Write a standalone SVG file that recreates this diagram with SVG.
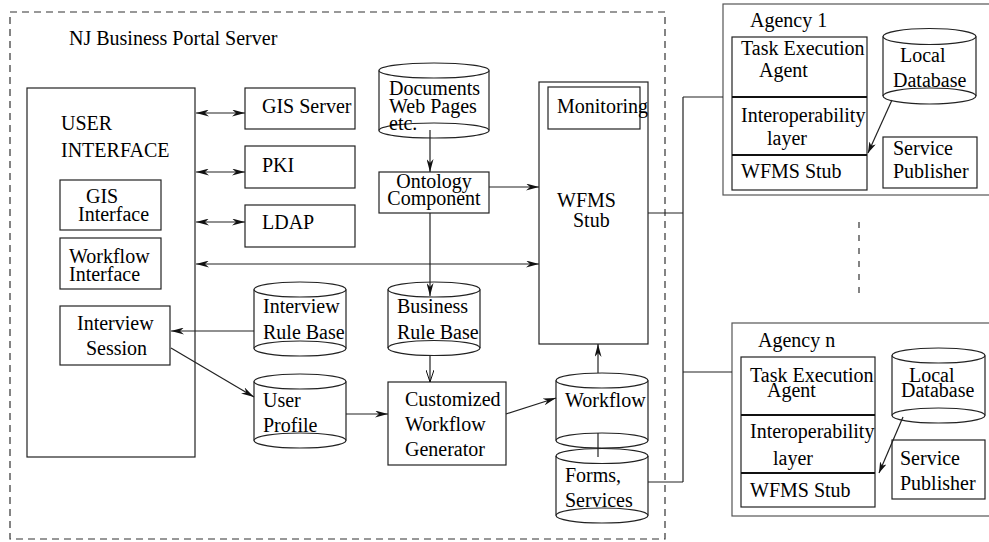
<svg xmlns="http://www.w3.org/2000/svg" width="989" height="542" viewBox="0 0 989 542">
<style>
text{font-family:"Liberation Serif","Times New Roman",serif;font-size:20px;fill:#000}
.b{fill:#fff;stroke:#222;stroke-width:1.2}
.g{fill:#fff;stroke:#555;stroke-width:1.2}
.c{fill:none;stroke:#222;stroke-width:1.2}
.l{fill:none;stroke:#222;stroke-width:1.2}
.t{fill:none;stroke:#111;stroke-width:2}
.d{fill:none;stroke:#333;stroke-width:1.2;stroke-dasharray:7,5}
</style>
<defs>
<marker id="ah" viewBox="0 0 13 7" refX="13" refY="3.5" markerWidth="13" markerHeight="7" markerUnits="userSpaceOnUse" orient="auto-start-reverse">
<path d="M0,0 L13,3.5 L0,7 L4,3.5 Z" fill="#111"/>
</marker>
<marker id="sm" viewBox="0 0 11 7" refX="11" refY="3.5" markerWidth="11" markerHeight="7" markerUnits="userSpaceOnUse" orient="auto">
<path d="M0,0 L11,3.5 L0,7 L3,3.5 Z" fill="#111"/>
</marker>
<marker id="op" viewBox="0 0 12 8" refX="12" refY="4" markerWidth="12" markerHeight="8" markerUnits="userSpaceOnUse" orient="auto">
<path d="M0,0 L12,4 L0,8" fill="none" stroke="#111" stroke-width="1"/>
</marker>
</defs>

<g id="portal">
<rect class="d" x="10" y="12" width="655" height="527"/>
<text x="69" y="45">NJ Business Portal Server</text>
</g>

<g id="user-interface">
<rect class="b" x="27" y="88" width="168" height="369"/>
<text x="61" y="130">USER</text>
<text x="61" y="157">INTERFACE</text>
</g>
<g id="gis-interface">
<rect class="b" x="60" y="180" width="101" height="50"/>
<text x="86" y="203">GIS</text>
<text x="78" y="221">Interface</text>
</g>
<g id="workflow-interface">
<rect class="b" x="60" y="238" width="101" height="51"/>
<text x="69" y="263">Workflow</text>
<text x="69" y="281">Interface</text>
</g>
<g id="interview-session">
<rect class="b" x="60" y="306" width="110" height="59"/>
<text x="77" y="330">Interview</text>
<text x="86" y="355">Session</text>
</g>

<g id="gis-server">
<rect class="b" x="245" y="88" width="110" height="41"/>
<text x="262" y="113">GIS Server</text>
</g>
<g id="pki">
<rect class="b" x="245" y="146" width="110" height="42"/>
<text x="262" y="172">PKI</text>
</g>
<g id="ldap">
<rect class="b" x="245" y="205" width="110" height="42"/>
<text x="262" y="229">LDAP</text>
</g>

<g id="interview-rule-base">
<path class="c" d="M254,289.5 V348.5 M346,289.5 V348.5"/>
<ellipse class="c" cx="300" cy="289.5" rx="46" ry="7.5"/>
<ellipse class="c" cx="300" cy="348.5" rx="46" ry="7.5"/>
<text x="263" y="313">Interview</text>
<text x="263" y="339">Rule Base</text>
</g>
<g id="user-profile">
<path class="c" d="M254,381.5 V440.5 M346,381.5 V440.5"/>
<ellipse class="c" cx="300" cy="381.5" rx="46" ry="7.5"/>
<ellipse class="c" cx="300" cy="440.5" rx="46" ry="7.5"/>
<text x="263" y="407">User</text>
<text x="263" y="432">Profile</text>
</g>

<g id="documents">
<path class="c" d="M379,70.5 V130.5 M489,70.5 V130.5"/>
<ellipse class="c" cx="434" cy="70.5" rx="55" ry="7.5"/>
<ellipse class="c" cx="434" cy="130.5" rx="55" ry="7.5"/>
<text x="389" y="95">Documents</text>
<text x="389" y="113">Web Pages</text>
<text x="389" y="130">etc.</text>
</g>
<g id="ontology">
<rect class="b" x="379" y="172" width="110" height="41"/>
<text x="434" y="188" text-anchor="middle">Ontology</text>
<text x="434" y="205" text-anchor="middle">Component</text>
</g>
<g id="business-rule-base">
<path class="c" d="M388,289.5 V348 M480,289.5 V348"/>
<ellipse class="c" cx="434" cy="289.5" rx="46" ry="7.5"/>
<ellipse class="c" cx="434" cy="348" rx="46" ry="7.5"/>
<text x="397" y="313">Business</text>
<text x="397" y="339">Rule Base</text>
</g>
<g id="workflow-generator">
<rect class="b" x="388" y="382" width="118" height="83"/>
<text x="405" y="406">Customized</text>
<text x="405" y="431">Workflow</text>
<text x="405" y="456">Generator</text>
</g>

<g id="wfms-stub">
<rect class="b" x="539" y="82" width="109" height="262"/>
<text x="557" y="207">WFMS</text>
<text x="573" y="227">Stub</text>
</g>
<g id="monitoring">
<rect class="b" x="548" y="87" width="92" height="42"/>
<text x="557" y="113">Monitoring</text>
</g>
<g id="workflow">
<path class="c" d="M556,380.5 V440.5 M648,380.5 V440.5"/>
<ellipse class="c" cx="602" cy="380.5" rx="46" ry="7.5"/>
<ellipse class="c" cx="602" cy="440.5" rx="46" ry="7.5"/>
<text x="565" y="407">Workflow</text>
</g>
<g id="forms-services">
<path class="c" d="M556,456 V515.5 M648,456 V515.5"/>
<ellipse class="c" cx="602" cy="456" rx="46" ry="7.5"/>
<ellipse class="c" cx="602" cy="515.5" rx="46" ry="7.5"/>
<text x="565" y="482">Forms,</text>
<text x="565" y="507">Services</text>
</g>

<g id="agency-1">
<rect class="g" x="723" y="4" width="280" height="191"/>
<text x="750" y="27">Agency 1</text>
<rect class="b" x="732" y="37" width="135" height="153"/>
<path class="t" d="M732,97 H867 M732,155 H867"/>
<text x="741" y="55">Task Execution</text>
<text x="759" y="77">Agent</text>
<text x="741" y="122">Interoperability</text>
<text x="767" y="145">layer</text>
<text x="741" y="178">WFMS Stub</text>
<path class="c" d="M883,36.5 V96 M976,36.5 V96"/>
<ellipse class="c" cx="929.5" cy="36.5" rx="46.5" ry="8"/>
<ellipse class="c" cx="929.5" cy="96" rx="46.5" ry="8"/>
<text x="900" y="62">Local</text>
<text x="893" y="87">Database</text>
<rect class="b" x="883" y="137" width="94" height="51"/>
<text x="893" y="155">Service</text>
<text x="893" y="178">Publisher</text>
<path class="l" d="M892,100 L868,153" marker-end="url(#sm)"/>
</g>

<g id="agency-n">
<rect class="g" x="732" y="323" width="280" height="193"/>
<text x="758" y="347">Agency n</text>
<rect class="b" x="741" y="357" width="134" height="150"/>
<path class="t" d="M741,415 H875 M741,473 H875"/>
<text x="750" y="382">Task Execution</text>
<text x="767" y="397">Agent</text>
<text x="750" y="438">Interoperability</text>
<text x="773" y="465">layer</text>
<text x="750" y="497">WFMS Stub</text>
<path class="c" d="M892,355.5 V415.5 M985,355.5 V415.5"/>
<ellipse class="c" cx="938.5" cy="355.5" rx="46.5" ry="7.5"/>
<ellipse class="c" cx="938.5" cy="415.5" rx="46.5" ry="7.5"/>
<text x="909" y="382">Local</text>
<text x="901" y="397">Database</text>
<rect class="b" x="892" y="440" width="93" height="59"/>
<text x="900" y="465">Service</text>
<text x="900" y="490">Publisher</text>
<path class="l" d="M903,417 L879,473" marker-end="url(#sm)"/>
</g>

<g id="connectors">
<path class="l" d="M196,113 H245" marker-start="url(#ah)" marker-end="url(#ah)"/>
<path class="l" d="M196,172 H245" marker-start="url(#ah)" marker-end="url(#ah)"/>
<path class="l" d="M196,222 H245" marker-start="url(#ah)" marker-end="url(#ah)"/>
<path class="l" d="M196,264 H539" marker-start="url(#ah)" marker-end="url(#ah)"/>
<path class="l" d="M254,331 H171" marker-end="url(#ah)"/>
<path class="l" d="M171,348 L254,397" marker-end="url(#ah)"/>
<path class="l" d="M346,414 H388" marker-end="url(#ah)"/>
<path class="l" d="M430,130 V172" marker-end="url(#ah)"/>
<path class="l" d="M430,213 V296" marker-end="url(#ah)"/>
<path class="l" d="M489,187 H539" marker-end="url(#ah)"/>
<path class="l" d="M430,356 V382" marker-end="url(#op)"/>
<path class="l" d="M506,414 L556,398" marker-end="url(#ah)"/>
<path class="l" d="M598,373 V344" marker-end="url(#ah)"/>
<path class="l" d="M598,457 V433"/>
<path class="l" d="M648,213 H683 M648,482 H683 M683,97 V482 M683,97 H723 M683,372 H732"/>
<path class="d" d="M859,222 V296" style="stroke-dasharray:6,7"/>
</g>
</svg>
